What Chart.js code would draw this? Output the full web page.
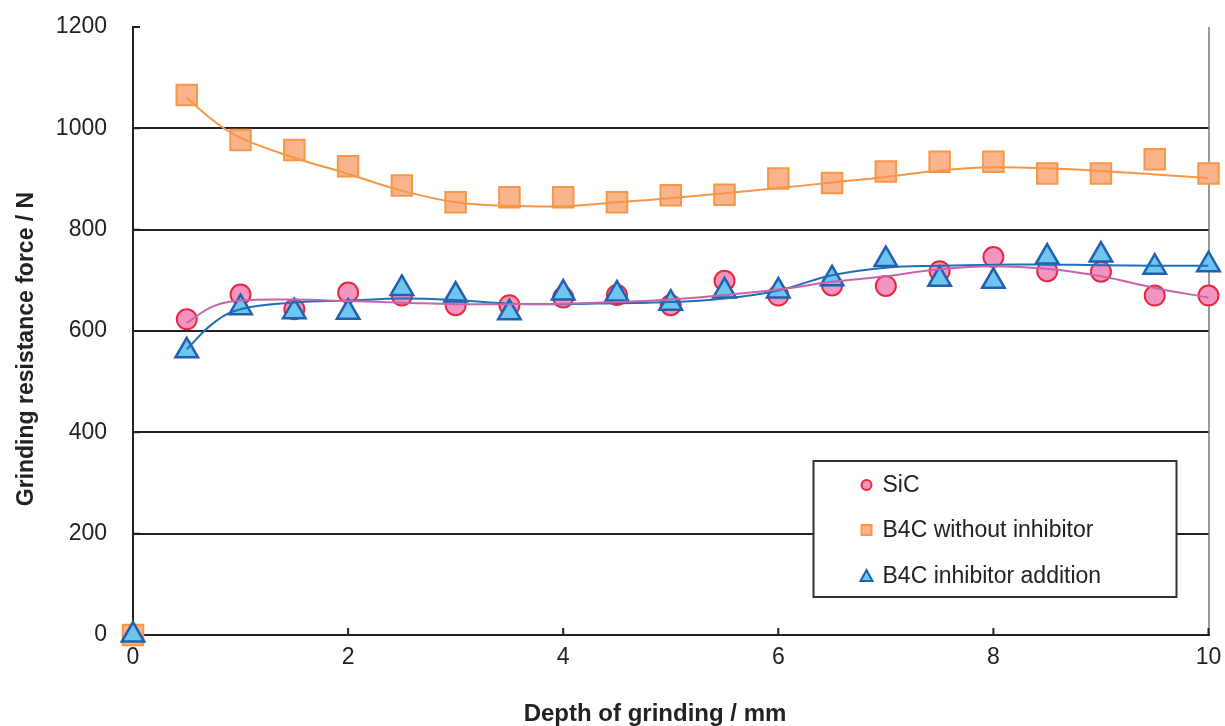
<!DOCTYPE html>
<html>
<head>
<meta charset="utf-8">
<script src="https://cdn.jsdelivr.net/npm/chart.js@4.4.1/dist/chart.umd.min.js"></script>
<style>
  html, body { margin: 0; padding: 0; background: #fff; }
  #wrap { width: 1225px; height: 726px; }
</style>
</head>
<body>
<div id="wrap"><canvas id="forceChart"></canvas></div>
<script>
// measured points
const depth = [0, 0.5, 1, 1.5, 2, 2.5, 3, 3.5, 4, 4.5, 5, 5.5, 6, 6.5, 7, 7.5, 8, 8.5, 9, 9.5, 10];
const sic = [0, 623, 672, 643, 676, 670, 651, 651, 666, 671, 651, 699, 670, 690, 689, 718, 746, 718, 717, 670, 670];
const b4c = [0, 1066, 977, 957, 925, 887, 854, 864, 864, 854, 868, 869, 901, 892, 915, 934, 934, 911, 911, 939, 911];
const b4cInh = [0, 561, 646, 638, 637, 684, 671, 636, 675, 673, 655, 679, 679, 703, 741, 702, 698, 746, 750, 726, 731];

// trend curves
const trendDepth = [0.5, 0.75, 1, 1.5, 2, 2.5, 3, 3.5, 4, 4.5, 5, 5.5, 6, 6.5, 7, 7.5, 8, 8.5, 9, 9.5, 10];
const sicTrend = [616, 649, 660, 662, 659, 656, 653, 653, 654, 657, 662, 671, 682, 697, 708, 722, 728, 723, 708, 685, 666];
const b4cTrend = [1060, 1015, 981, 942, 910, 877, 854, 847, 846, 854, 862, 872, 882, 893, 904, 917, 923, 921, 916, 909, 902];
const inhTrend = [564, 616, 643, 656, 660, 664, 661, 654, 653, 655, 657, 664, 680, 710, 725, 729, 731, 731, 730, 729, 729];

const xTicks = [0, 2, 4, 6, 8, 10];
const yTicks = [0, 200, 400, 600, 800, 1000, 1200];
const seriesNames = ['SiC', 'B4C without inhibitor', 'B4C inhibitor addition'];

const FONT = "'Liberation Sans', Arial, sans-serif";
const pts = (xs, ys) => xs.map((x, i) => ({ x: x, y: ys[i] }));

const pink = { fill: '#F395C0', edge: '#E8283C', line: '#C864A8' };
const orange = { fill: '#F9B48C', edge: '#F79646', line: '#F79646' };
const blue = { fill: '#6EC5EE', edge: '#2160B0', line: '#1F6EB8' };

// inward tick marks, titles and the boxed legend
const decor = {
    id: 'decor',
    beforeDatasetsDraw(chart) {
        const c = chart.ctx, x = chart.scales.x, y = chart.scales.y;
        c.save();
        c.strokeStyle = '#222';
        c.lineWidth = 2;
        c.beginPath();
        yTicks.forEach(v => {
            const py = y.getPixelForValue(v);
            c.moveTo(x.left, py); c.lineTo(x.left + 7, py);
        });
        xTicks.forEach(v => {
            const px = x.getPixelForValue(v);
            c.moveTo(px, y.bottom); c.lineTo(px, y.bottom - 7);
        });
        c.stroke();
        c.restore();
    },
    afterDraw(chart) {
        const c = chart.ctx, a = chart.chartArea;
        c.save();
        c.fillStyle = '#222';
        c.textAlign = 'center';
        c.textBaseline = 'middle';
        c.font = "bold 24px " + FONT;
        c.fillText('Depth of grinding / mm', 655, 714);
        c.translate(27, 349);
        c.rotate(-Math.PI / 2);
        c.font = "bold 23px 'Liberation Sans Narrow', 'Arial Narrow', " + FONT;
        c.fillText('Grinding resistance force / N', 0, 0);
        c.restore();

        // legend box
        const bx = a.right - 395, by = a.bottom - 174, bw = 363, bh = 136;
        c.save();
        c.fillStyle = '#fff';
        c.fillRect(bx, by, bw, bh);
        c.strokeStyle = '#333';
        c.lineWidth = 2;
        c.strokeRect(bx, by, bw, bh);
        const mx = bx + 53, tx = bx + 69;
        const rows = [by + 24, by + 69, by + 115];
        c.lineWidth = 2;
        // circle
        c.fillStyle = pink.fill; c.strokeStyle = pink.edge;
        c.beginPath(); c.arc(mx, rows[0], 5, 0, Math.PI * 2); c.fill(); c.stroke();
        // square
        c.fillStyle = orange.fill; c.strokeStyle = orange.edge;
        c.fillRect(mx - 5, rows[1] - 5, 10, 10); c.strokeRect(mx - 5, rows[1] - 5, 10, 10);
        // triangle
        c.fillStyle = blue.fill; c.strokeStyle = blue.edge;
        c.beginPath();
        c.moveTo(mx, rows[2] - 6); c.lineTo(mx + 6, rows[2] + 5); c.lineTo(mx - 6, rows[2] + 5);
        c.closePath(); c.fill(); c.stroke();
        c.fillStyle = '#222';
        c.font = '23px ' + FONT;
        c.textAlign = 'left';
        c.textBaseline = 'middle';
        seriesNames.forEach((n, i) => c.fillText(n, tx, rows[i] + 1));
        c.restore();
    }
};

const ctx = document.getElementById('forceChart').getContext('2d');
const forceChart = new Chart(ctx, {
    type: 'scatter',
    data: {
        datasets: [
            {
                label: 'SiC trend', data: pts(trendDepth, sicTrend), showLine: true,
                borderColor: pink.line, borderWidth: 2, pointRadius: 0, tension: 0.4, order: 0
            },
            {
                label: 'B4C trend', data: pts(trendDepth, b4cTrend), showLine: true,
                borderColor: orange.line, borderWidth: 2, pointRadius: 0, tension: 0.4, order: 0
            },
            {
                label: 'B4C inhibitor trend', data: pts(trendDepth, inhTrend), showLine: true,
                borderColor: blue.line, borderWidth: 2, pointRadius: 0, tension: 0.4, order: 0
            },
            {
                label: seriesNames[2], data: pts(depth, b4cInh), pointStyle: 'triangle',
                pointRadius: 13, backgroundColor: blue.fill, borderColor: blue.edge, borderWidth: 2.5,
                clip: false, order: 1
            },
            {
                label: seriesNames[1], data: pts(depth, b4c), pointStyle: 'rect',
                pointRadius: 14.5, backgroundColor: orange.fill, borderColor: orange.edge, borderWidth: 2,
                clip: false, order: 2
            },
            {
                label: seriesNames[0], data: pts(depth, sic), pointStyle: 'circle',
                pointRadius: 10, backgroundColor: pink.fill, borderColor: pink.edge, borderWidth: 2,
                clip: false, order: 3
            }
        ]
    },
    options: {
        responsive: true,
        maintainAspectRatio: false,
        animation: false,
        events: [],
        layout: { padding: { left: 0, right: 15, top: 27, bottom: 0 } },
        plugins: { legend: { display: false }, tooltip: { enabled: false } },
        scales: {
            x: {
                type: 'linear', min: 0, max: 10,
                afterFit: s => { s.height = 91; s.paddingLeft = 0; s.paddingRight = 0; },
                afterBuildTicks: s => { s.ticks = xTicks.map(v => ({ value: v })); },
                grid: {
                    drawTicks: false,
                    color: c => (c.tick && c.tick.value === 10 ? '#9a9a9a' : 'rgba(0,0,0,0)'),
                    lineWidth: 2
                },
                border: { color: '#222', width: 2 },
                ticks: { color: '#222', font: { family: FONT, size: 23 }, padding: 9, maxRotation: 0,
                         callback: v => String(v) }
            },
            y: {
                min: 0, max: 1200,
                afterFit: s => { s.width = 133; s.paddingTop = 0; s.paddingBottom = 0; },
                afterBuildTicks: s => { s.ticks = yTicks.map(v => ({ value: v })); },
                grid: {
                    drawTicks: false,
                    color: c => (c.tick && (c.tick.value === 1200 || c.tick.value === 0) ? 'rgba(0,0,0,0)' : '#222'),
                    lineWidth: 2
                },
                border: { color: '#222', width: 2 },
                ticks: { color: '#222', font: { family: FONT, size: 23 }, padding: 26,
                         callback: v => String(v) }
            }
        }
    },
    plugins: [decor]
});
</script>
</body>
</html>
